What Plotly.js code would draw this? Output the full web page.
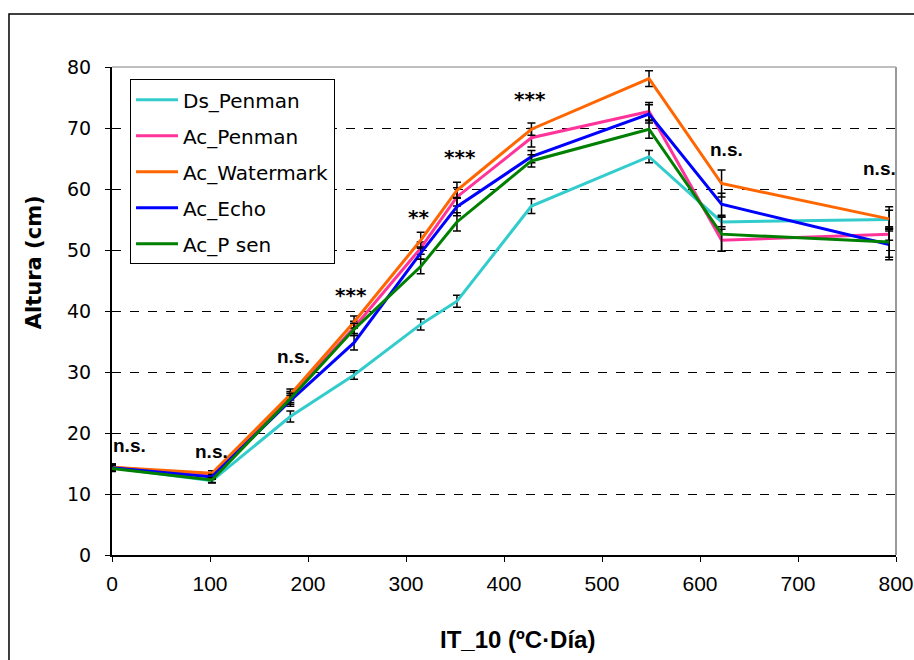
<!DOCTYPE html>
<html>
<head>
<meta charset="utf-8">
<script src="https://cdn.plot.ly/plotly-3.0.1.min.js"></script>
<style>html,body{margin:0;padding:0;background:#fff;}#chart{width:914px;height:660px;}</style>
</head>
<body>
<div id="chart"></div>
<script>
// IT_10 (ºC·Día) sampling points
const itValues = [0, 102, 182, 247, 315, 352, 428, 548, 622, 793];

const seriesNames = ["Ds_Penman", "Ac_Penman", "Ac_Watermark", "Ac_Echo", "Ac_P sen"];
const seriesColors = ["#33CCCC", "#FF3399", "#FF6600", "#0000FF", "#008000"];

// Altura (cm)
const dsPenman    = [14.3, 12.2, 22.7, 29.5, 37.8, 41.6, 57.2, 65.3, 54.6, 55.0];
const acPenman    = [14.4, 13.0, 25.9, 37.3, 50.3, 58.7, 68.4, 72.7, 51.6, 52.6];
const acWatermark = [14.4, 13.4, 26.3, 38.2, 51.6, 59.8, 69.8, 78.1, 60.9, 55.1];
const acEcho      = [14.3, 12.8, 25.3, 34.8, 49.5, 57.1, 65.3, 72.3, 57.5, 50.9];
const acPsen      = [14.2, 12.3, 25.6, 37.0, 47.3, 54.6, 64.6, 69.8, 52.6, 51.3];

// error bars (cm)
const errDsPenman    = [0.5, 0.4, 0.9, 0.7, 0.9, 1.0, 1.2, 1.0, 0.8, 1.5];
const errAcPenman    = [0.5, 0.4, 0.9, 1.0, 1.0, 1.5, 1.5, 1.5, 1.8, 1.0];
const errAcWatermark = [0.5, 0.4, 0.9, 1.0, 1.3, 1.3, 1.0, 1.3, 2.2, 2.0];
const errAcEcho      = [0.5, 0.4, 0.9, 1.2, 1.0, 1.5, 1.0, 1.5, 1.8, 2.5];
const errAcPsen      = [0.5, 0.4, 0.9, 1.0, 1.2, 1.5, 1.0, 1.5, 2.8, 2.5];

// significance labels
const sigLabels = ["n.s.", "n.s.", "n.s.", "***", "**", "***", "***", "***", "n.s.", "n.s."];
const sigX      = [18, 102, 185, 244, 313, 355, 426.5, 550, 627.5, 783.5];
const sigY      = [18.0, 17.0, 32.6, 42.6, 55.4, 65.2, 74.8, 81.7, 66.4, 63.3];

const xTicks = [0, 100, 200, 300, 400, 500, 600, 700, 800];
const yTicks = [0, 10, 20, 30, 40, 50, 60, 70, 80];

const allY = [dsPenman, acPenman, acWatermark, acEcho, acPsen];
const allErr = [errDsPenman, errAcPenman, errAcWatermark, errAcEcho, errAcPsen];

const traces = seriesNames.map((name, i) => ({
  type: "scatter",
  mode: "lines",
  name: name,
  legendgroup: "g" + i,
  x: itValues,
  y: allY[i],
  line: {color: seriesColors[i], width: 3},
  error_y: {type: "data", array: allErr[i], visible: true, color: "#000", thickness: 1.5, width: 4},
  cliponaxis: false
}));

const annotations = sigLabels.map((t, i) => ({
  x: sigX[i], y: sigY[i], xref: "x", yref: "y", text: "<b>" + t + "</b>", showarrow: false,
  font: t.indexOf("*") >= 0
    ? {family: "DejaVu Sans, Verdana, sans-serif", size: 20, color: "#000"}
    : {family: "Liberation Sans, Arial, sans-serif", size: 19, color: "#000"},
  xanchor: "center", yanchor: "middle"
}));

annotations.push({
  x: -0.0995, y: 0.60, xref: "paper", yref: "paper", text: "<b>Altura (cm)</b>", showarrow: false,
  textangle: -90, font: {family: "DejaVu Sans, Verdana, sans-serif", size: 21, color: "#000"},
  xanchor: "center", yanchor: "middle"
});
annotations.push({
  x: 0.5166, y: -0.174, xref: "paper", yref: "paper", text: "<b>IT_10 (ºC·Día)</b>", showarrow: false,
  font: {family: "Liberation Sans, Arial, sans-serif", size: 24, color: "#000"},
  xanchor: "center", yanchor: "middle"
});

const layout = {
  width: 914, height: 660,
  margin: {l: 112, r: 18, t: 67, b: 105},
  paper_bgcolor: "#fff", plot_bgcolor: "#fff",
  showlegend: true,
  legend: {
    x: 0.023, y: 0.975, xanchor: "left", yanchor: "top",
    bgcolor: "#fff", bordercolor: "#000", borderwidth: 1,
    font: {family: "DejaVu Sans, Verdana, sans-serif", size: 20, color: "#000"},
    tracegroupgap: 7, itemwidth: 42
  },
  xaxis: {
    range: [0, 800], tickvals: xTicks, ticktext: xTicks.map(String),
    showgrid: false, zeroline: false,
    showline: true, linecolor: "#000", linewidth: 2,
    ticks: "outside", ticklen: 5, tickcolor: "#000", tickwidth: 1,
    tickfont: {family: "Liberation Sans, Arial, sans-serif", size: 21, color: "#000"},
    ticklabelstandoff: 4, ticklabeloverflow: "allow", fixedrange: true
  },
  yaxis: {
    range: [0, 80], tickvals: yTicks, ticktext: yTicks.map(String),
    showgrid: true, gridcolor: "#000", gridwidth: 1, griddash: "dash",
    zeroline: false,
    showline: true, linecolor: "#000", linewidth: 2,
    ticks: "outside", ticklen: 5, tickcolor: "#000", tickwidth: 1,
    tickfont: {family: "DejaVu Sans, Verdana, sans-serif", size: 19, color: "#000"},
    ticklabelstandoff: 10, fixedrange: true
  },
  shapes: [
    {type: "rect", xref: "paper", yref: "paper", x0: -0.1314, x1: 1.031, y0: -0.236, y1: 1.1086,
     line: {color: "#000", width: 1.5}, fillcolor: "rgba(0,0,0,0)", layer: "below"},
    {type: "line", xref: "paper", yref: "paper", x0: 1, x1: 1, y0: 0, y1: 1,
     line: {color: "#999", width: 2}, layer: "below"},
    {type: "line", xref: "paper", yref: "paper", x0: 0, x1: 1, y0: 1, y1: 1,
     line: {color: "#aaa", width: 1.5}, layer: "below"}
  ],
  annotations: annotations
};

Plotly.newPlot("chart", traces, layout, {displayModeBar: false, staticPlot: true});
</script>
</body>
</html>
